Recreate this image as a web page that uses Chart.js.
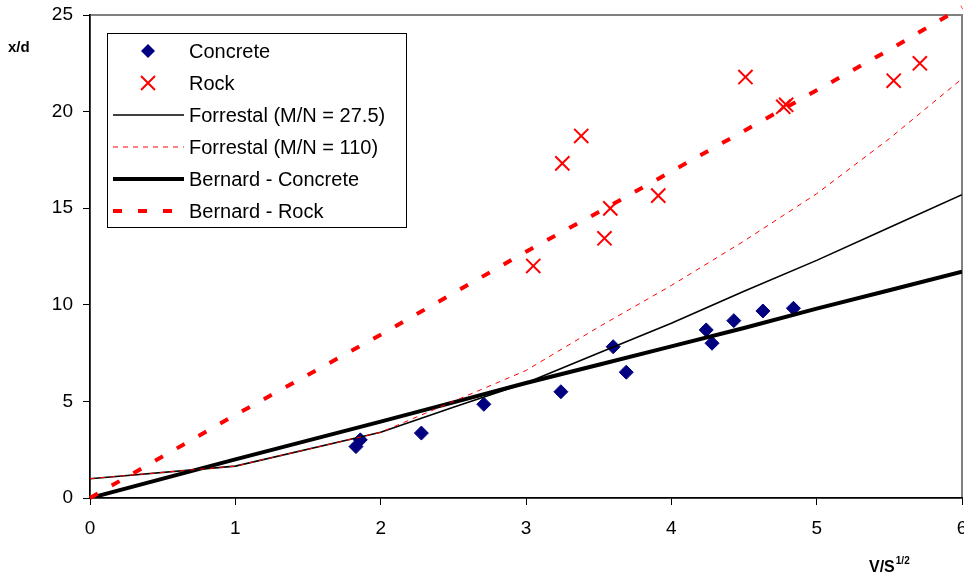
<!DOCTYPE html>
<html>
<head>
<meta charset="utf-8">
<script src="https://cdn.jsdelivr.net/npm/chart.js@4"></script>
<style>
  html, body { margin: 0; padding: 0; background: #fff; }
  #wrap { width: 964px; height: 577px; position: relative; }
</style>
</head>
<body>
<div id="wrap"><canvas id="chart" width="964" height="577"></canvas></div>
<script>
// measured points
const concreteX = [1.83, 1.86, 2.28, 2.71, 3.24, 3.60, 3.69, 4.24, 4.28, 4.43, 4.63, 4.84];
const concreteY = [2.66, 3.01, 3.36, 4.85, 5.50, 7.83, 6.51, 8.70, 8.01, 9.18, 9.68, 9.82];
const rockX = [3.05, 3.25, 3.38, 3.54, 3.58, 3.91, 4.51, 4.77, 4.79, 5.53, 5.71];
const rockY = [12.01, 17.32, 18.74, 13.44, 14.99, 15.65, 21.79, 20.25, 20.35, 21.6, 22.5];

// model curves
const curveX = [0, 1, 2, 2.5, 3, 3.5, 4, 4.5, 5, 5.5, 6];
const forrestal275 = [1.0, 1.65, 3.4, 4.7, 5.95, 7.5, 9.05, 10.7, 12.3, 14.0, 15.7];
const forrestal110 = [1.0, 1.65, 3.4, 5.0, 6.6, 8.85, 11.0, 13.3, 15.75, 18.6, 21.7];
const bernardConcrete = [0, 2.0, 3.95, 4.95, 5.95, 6.9, 7.85, 8.8, 9.8, 10.75, 11.72];
const bernardRock = [0, 4.3, 8.45, 10.6, 12.75, 14.8, 16.9, 19.0, 21.1, 23.2, 25.4];

const xTicks = [0, 1, 2, 3, 4, 5, 6];
const yTicks = [0, 5, 10, 15, 20, 25];

function pts(xs, ys) {
  return xs.map((x, i) => ({ x: x, y: ys[i] }));
}

const FONT = "'Liberation Sans', Arial, sans-serif";

// gray frame + axis titles + legend box
const extras = {
  id: 'extras',
  beforeDraw(chart) {
    const ctx = chart.ctx, a = chart.chartArea;
    ctx.save();
    ctx.strokeStyle = '#808080';
    ctx.lineWidth = 2;
    ctx.strokeRect(a.left, a.top, a.right - a.left, a.bottom - a.top);
    ctx.restore();
  },
  afterDraw(chart) {
    const ctx = chart.ctx;
    ctx.save();
    ctx.fillStyle = '#000';
    ctx.textBaseline = 'alphabetic';
    ctx.font = 'bold 15px ' + FONT;
    ctx.fillText('x/d', 8, 52);
    ctx.font = 'bold 16px ' + FONT;
    ctx.fillText('V/S', 869, 572);
    const w = ctx.measureText('V/S').width;
    ctx.font = 'bold 10px ' + FONT;
    ctx.fillText('1/2', 869 + w + 1, 564);

    // legend
    const lx = 107, ly = 33, lw = 299, lh = 194;
    ctx.fillStyle = '#fff';
    ctx.fillRect(lx, ly, lw, lh);
    ctx.strokeStyle = '#000';
    ctx.lineWidth = 1;
    ctx.strokeRect(lx + 0.5, ly + 0.5, lw, lh);

    const rows = [51, 83, 115, 147, 179, 211];
    const labels = ['Concrete', 'Rock', 'Forrestal (M/N = 27.5)', 'Forrestal (M/N = 110)',
                    'Bernard - Concrete', 'Bernard - Rock'];
    // diamond
    ctx.fillStyle = '#000080';
    ctx.beginPath();
    ctx.moveTo(148, rows[0] - 7); ctx.lineTo(155, rows[0]);
    ctx.lineTo(148, rows[0] + 7); ctx.lineTo(141, rows[0]);
    ctx.closePath(); ctx.fill();
    // cross
    ctx.strokeStyle = '#ff0000';
    ctx.lineWidth = 2;
    ctx.beginPath();
    ctx.moveTo(141, rows[1] - 7); ctx.lineTo(155, rows[1] + 7);
    ctx.moveTo(155, rows[1] - 7); ctx.lineTo(141, rows[1] + 7);
    ctx.stroke();
    // lines
    const styles = [
      [3, '#000', 1.5, []],
      [4, '#ff0000', 1, [5, 5]],
      [5, '#000', 4, []],
      [6, '#ff0000', 4, [9, 16]]
    ];
    styles.forEach(s => {
      ctx.strokeStyle = s[1];
      ctx.lineWidth = s[2];
      ctx.setLineDash(s[3]);
      ctx.beginPath();
      ctx.moveTo(113, rows[s[0] - 1]);
      ctx.lineTo(184, rows[s[0] - 1]);
      ctx.stroke();
    });
    ctx.setLineDash([]);
    ctx.fillStyle = '#000';
    ctx.font = '20px ' + FONT;
    ctx.textBaseline = 'middle';
    labels.forEach((t, i) => ctx.fillText(t, 189, rows[i] + 1));
    ctx.restore();
  }
};

const ctx = document.getElementById('chart').getContext('2d');
new Chart(ctx, {
  type: 'scatter',
  data: {
    datasets: [
      {
        label: 'Bernard - Rock',
        data: pts(curveX, bernardRock),
        showLine: true, pointRadius: 0,
        borderColor: '#ff0000', borderWidth: 4, borderDash: [9, 16],
        clip: false
      },
      {
        label: 'Forrestal (M/N = 110)',
        data: pts(curveX, forrestal110),
        showLine: true, pointRadius: 0,
        borderColor: '#ff0000', borderWidth: 1, borderDash: [5, 5]
      },
      {
        label: 'Forrestal (M/N = 27.5)',
        data: pts(curveX, forrestal275),
        showLine: true, pointRadius: 0,
        borderColor: '#000', borderWidth: 1.6
      },
      {
        label: 'Bernard - Concrete',
        data: pts(curveX, bernardConcrete),
        showLine: true, pointRadius: 0,
        borderColor: '#000', borderWidth: 4
      },
      {
        label: 'Concrete',
        data: pts(concreteX, concreteY),
        pointStyle: 'rectRot', pointRadius: 7,
        backgroundColor: '#000080', borderColor: '#000080', borderWidth: 1
      },
      {
        label: 'Rock',
        data: pts(rockX, rockY),
        pointStyle: 'crossRot', pointRadius: 10,
        borderColor: '#ff0000', borderWidth: 2
      }
    ]
  },
  options: {
    responsive: false,
    animation: false,
    devicePixelRatio: 1,
    layout: { autoPadding: false, padding: { left: 0, right: 2, top: 15, bottom: 0 } },
    plugins: {
      legend: { display: false },
      tooltip: { enabled: false }
    },
    scales: {
      x: {
        type: 'linear', min: 0, max: 6,
        afterBuildTicks: s => { s.ticks = xTicks.map(v => ({ value: v })); },
        afterFit: s => { s.height = 79; s.paddingLeft = 0; s.paddingRight = 0; },
        grid: { drawOnChartArea: false, tickLength: 7, tickColor: '#000', tickWidth: 1 },
        border: { color: '#000', width: 1.5 },
        ticks: { color: '#000', padding: 12, maxRotation: 0, font: { family: FONT, size: 19 } }
      },
      y: {
        type: 'linear', min: 0, max: 25,
        afterBuildTicks: s => { s.ticks = yTicks.map(v => ({ value: v })); },
        afterFit: s => { s.width = 90; s.paddingTop = 0; s.paddingBottom = 0; },
        grid: { drawOnChartArea: false, tickLength: 7, tickColor: '#000', tickWidth: 1 },
        border: { color: '#000', width: 1.5 },
        ticks: { color: '#000', padding: 10, font: { family: FONT, size: 19 } }
      }
    }
  },
  plugins: [extras]
});
</script>
</body>
</html>
